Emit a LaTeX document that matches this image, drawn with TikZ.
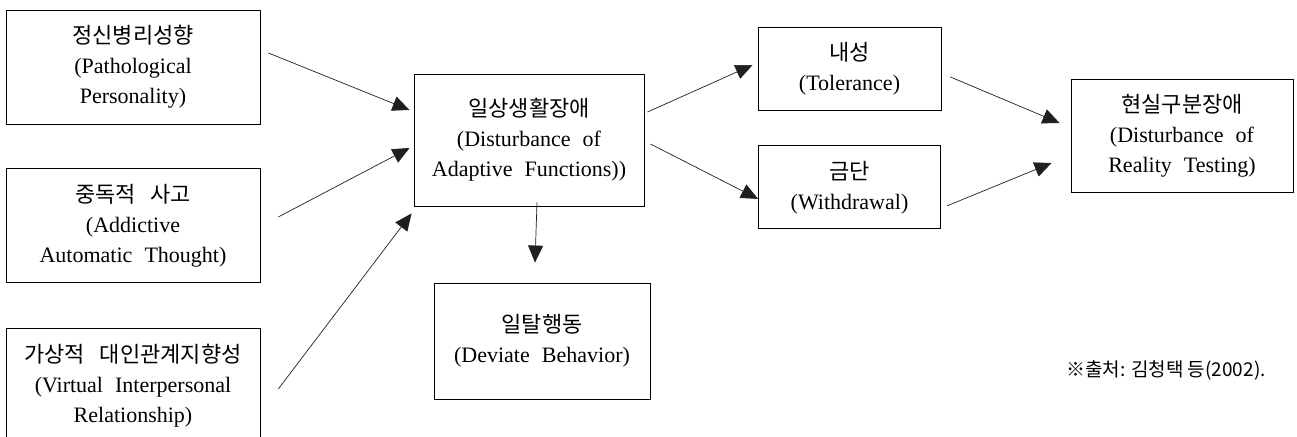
\documentclass[tikz,border=0pt]{standalone}
\usepackage{fontspec}
\setmainfont[WordSpace=2.2]{Liberation Serif}
\newfontfamily\kr[Scale=1.0,WordSpace=3]{Noto Sans CJK KR}
\newfontfamily\krnote{Noto Sans CJK KR}
\usetikzlibrary{arrows.meta, positioning}

\begin{document}
\begin{tikzpicture}[
    x=1pt, y=1pt,
    node distance=44pt,
    box/.style={draw, rectangle, line width=0.9pt, align=center, inner sep=2pt, font=\fontsize{22}{30}\selectfont},
    arrow/.style={-{Triangle[length=17pt,width=15pt]}, line width=0.7pt, color=black!88},
    note/.style={font=\krnote\fontsize{19}{22}\selectfont},
  ]
  \useasboundingbox (0,0) rectangle (1297,-436);

  % Left column
  \node[box, minimum width=254pt, minimum height=114pt] (patho) at (133,-67) {{\kr 정신병리성향}\\(Pathological\\Personality)};
  \node[box, minimum width=254pt, minimum height=114pt] (addict) [below=of patho] {{\kr 중독적 사고}\\(Addictive\\Automatic Thought)};
  \node[box, minimum width=254pt, minimum height=114pt] (virtual) [below=45pt of addict] {{\kr 가상적 대인관계지향성}\\(Virtual Interpersonal\\Relationship)};

  % Middle nodes
  \node[box, minimum width=230pt, minimum height=132pt] (adapt) at (529,-140) {{\kr 일상생활장애}\\(Disturbance of\\Adaptive Functions))};
  \node[box, minimum width=216pt, minimum height=116pt] (deviate) at (542,-341) {{\kr 일탈행동}\\(Deviate Behavior)};

  % Right nodes
  \node[box, minimum width=183pt, minimum height=83pt] (toler) at (849.5,-68.5) {{\kr 내성}\\(Tolerance)};
  \node[box, minimum width=182pt, minimum height=83pt] (withd) [below=35pt of toler] {{\kr 금단}\\(Withdrawal)};
  \node[box, minimum width=222pt, minimum height=113pt] (reality) at (1182,-135.5) {{\kr 현실구분장애}\\(Disturbance of\\Reality Testing)};

  % Source
  \node[note] (src) at (1166,-370) {※출처: 김청택 등(2002).};

  % Edges into adapt
  \draw[arrow] ([xshift=8pt,yshift=14pt]patho.east) -- ([xshift=-4pt,yshift=30pt]adapt.west);
  \draw[arrow] ([xshift=18pt,yshift=9pt]addict.east) -- ([xshift=-4pt,yshift=-8pt]adapt.west);
  \draw[arrow] ([xshift=18pt,yshift=-3pt]virtual.east) -- ([xshift=-2pt,yshift=-7pt]adapt.south west);
  % Edges out of adapt
  \draw[arrow] ([xshift=3pt,yshift=28pt]adapt.east) -- ([xshift=-5pt,yshift=3.5pt]toler.west);
  \draw[arrow] ([xshift=6pt,yshift=-4pt]adapt.east) -- ([yshift=-11.5pt]withd.west);
  \draw[arrow] ([xshift=8pt,yshift=4pt]adapt.south) -- ([xshift=-7pt,yshift=20pt]deviate.north);
  % Edges into reality
  \draw[arrow] ([xshift=9pt,yshift=-8.5pt]toler.east) -- ([xshift=-11pt,yshift=12.5pt]reality.west);
  \draw[arrow] ([xshift=6pt,yshift=-18.5pt]withd.east) -- ([xshift=-19pt,yshift=-27.5pt]reality.west);
\end{tikzpicture}
\end{document}
